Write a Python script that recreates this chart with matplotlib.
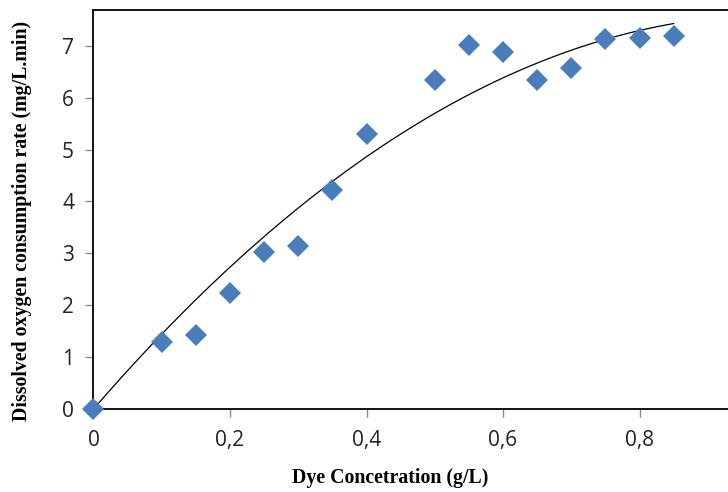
import numpy as np
import matplotlib
matplotlib.use("Agg")
import matplotlib.pyplot as plt

# Dye concentration (g/L) and dissolved oxygen consumption rate (mg/L.min)
dye_conc = [0.0, 0.10, 0.15, 0.20, 0.25, 0.30, 0.35, 0.40, 0.50, 0.55,
            0.60, 0.65, 0.70, 0.75, 0.80, 0.85]
do_rate = [0.0, 1.30, 1.43, 2.23, 3.02, 3.15, 4.22, 5.30, 6.34, 7.02,
           6.88, 6.34, 6.58, 7.13, 7.16, 7.19]

x_ticks = [0.0, 0.2, 0.4, 0.6, 0.8]
x_tick_labels = ["0", "0,2", "0,4", "0,6", "0,8"]
y_ticks = [0, 1, 2, 3, 4, 5, 6, 7]

fig = plt.figure(figsize=(7.28, 4.92), dpi=100)
ax = fig.add_axes([93.5 / 728, 83 / 492, (776 - 93.5) / 728, (409 - 9.5) / 492])

# second-order polynomial trend line forced through the origin
xc = np.asarray(dye_conc)
yc = np.asarray(do_rate)
A = np.column_stack([xc, xc ** 2])
(a1, a2), *_ = np.linalg.lstsq(A, yc, rcond=None)
xs = np.linspace(0, xc.max(), 200)
ax.plot(xs, a1 * xs + a2 * xs ** 2, color="black", lw=0.9, zorder=2)

ax.plot(dye_conc, do_rate, linestyle="none", marker="D", markersize=11,
        color="#4A7EBB", markeredgewidth=0, zorder=3, clip_on=False)

ax.set_xlim(0, 1.0)
ax.set_ylim(0, 7.7)
ax.set_xticks(x_ticks)
ax.set_xticklabels(x_tick_labels)
ax.set_yticks(y_ticks)

for s in ax.spines.values():
    s.set_color("black")
    s.set_linewidth(1.3)

ax.tick_params(axis="both", direction="out", length=6, width=1, color="#8C8C8C",
               labelsize=15, labelcolor="#222222")
ax.tick_params(axis="x", pad=9)
ax.tick_params(axis="y", pad=8)
for lab in ax.get_xticklabels() + ax.get_yticklabels():
    lab.set_family("Open Sans")

fig.text(390 / 728, 1 - 478 / 492, "Dye Concetration (g/L)",
         family="Liberation Serif", fontweight="bold", fontsize=14.3,
         ha="center", va="center")
fig.text(22 / 728, 1 - 221 / 492, "Dissolved oxygen consumption rate (mg/L.min)",
         family="Liberation Serif", fontweight="bold", fontsize=14.3,
         rotation=90, ha="center", va="center")

fig.savefig("out.png", dpi=100)
